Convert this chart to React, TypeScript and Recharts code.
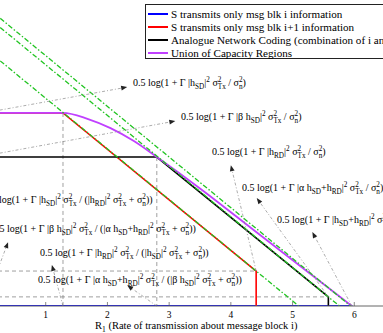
import React from "react";
import { LineChart, Line, XAxis, YAxis, ReferenceLine, ReferenceDot } from "recharts";

const FONT = '"Liberation Serif", "Times New Roman", serif';

// rate region boundaries (R1, R2)
const blueR1 = [0, 5.97];
const blueR2 = [0, 0];
const redR1 = [0, 1.28, 4.41, 4.41];
const redR2 = [3.81, 3.81, 0.69, 0];
const ancR1 = [0, 2.8, 5.58, 5.58];
const ancR2 = [2.94, 2.94, 0.18, 0];
const unionR1 = [0, 1.28, 1.665, 2.05, 2.435, 2.8, 3.5, 4.39, 5.96];
const unionR2 = [3.81, 3.81, 3.7, 3.51, 3.25, 2.94, 2.32, 1.48, 0];
// sum-rate bounds R1 + R2 = c
const sumRates = [5.94, 5.76, 5.1];

const xTicks = [1, 2, 3, 4, 5, 6];

const legendNames = [
  "S transmits only msg blk i information",
  "S transmits only msg blk i+1 information",
  "Analogue Network Coding (combination of i and i+1)",
  "Union of Capacity Regions",
];
const legendColors = ["#0000ff", "#ff0000", "#000000", "#c040ff"];

const boundLabels = [
  "0.5 log(1 + Γ |h_{SD}|^{2} σ^{2}_{Tx} / σ^{2}_{n})",
  "0.5 log(1 + Γ |β h_{SD}|^{2} σ^{2}_{Tx} / σ^{2}_{n})",
  "0.5 log(1 + Γ |h_{RD}|^{2} σ^{2}_{Tx} / σ^{2}_{n})",
  "0.5 log(1 + Γ |α h_{SD}+h_{RD}|^{2} σ^{2}_{Tx} / σ^{2}_{n})",
  "0.5 log(1 + Γ |h_{SD}+h_{RD}|^{2} σ^{2}_{Tx} / σ^{2}_{n})",
  "0.5 log(1 + Γ |h_{SD}|^{2} σ^{2}_{Tx} / (|h_{RD}|^{2} σ^{2}_{Tx} + σ^{2}_{n}))",
  "0.5 log(1 + Γ |β h_{SD}|^{2} σ^{2}_{Tx} / (|α h_{SD}+h_{RD}|^{2} σ^{2}_{Tx} + σ^{2}_{n}))",
  "0.5 log(1 + Γ |h_{RD}|^{2} σ^{2}_{Tx} / (|h_{SD}|^{2} σ^{2}_{Tx} + σ^{2}_{n}))",
  "0.5 log(1 + Γ |α h_{SD}+h_{RD}|^{2} σ^{2}_{Tx} / (|β h_{SD}|^{2} σ^{2}_{Tx} + σ^{2}_{n}))",
];
const labelR1 = [2.415, 3.193, 3.695, 4.181, 4.749, 0.0, 0.13, 0.908, 0.875];
const labelR2 = [4.342, 3.671, 2.98, 2.27, 1.638, 2.033, 1.46, 0.987, 0.454];

// annotation arrows: from (R1, R2) to (R1, R2)
const arrowFrom = [[0, 3.81], [0, 2.96], [4.41, 0.69], [5.58, 0.18], [5.96, 0], [0, 0], [1.28, 0], [2.8, 0]];
const arrowTo = [[2.32, 4.32], [3.1, 3.65], [4.0, 2.78], [4.42, 2.13], [5.32, 1.46], [0.39, 1.26], [1.1, 0.81], [2.32, 0.41]];

const toPoints = (xs: number[], ys: number[]) => xs.map((x, i) => ({ x, y: ys[i] }));

let ctx: CanvasRenderingContext2D | null = null;
function measure(t: string, size: number) {
  if (!ctx) ctx = document.createElement("canvas").getContext("2d");
  if (!ctx) return t.length * size * 0.5;
  ctx.font = `${size}px "Liberation Serif"`;
  return ctx.measureText(t).width;
}

type Seg = { t: string; k: "n" | "sub" | "sup" };
function parseTex(s: string): Seg[] {
  const out: Seg[] = [];
  let i = 0;
  let buf = "";
  while (i < s.length) {
    const c = s[i];
    if ((c === "_" || c === "^") && s[i + 1] === "{") {
      if (buf) { out.push({ t: buf, k: "n" }); buf = ""; }
      const end = s.indexOf("}", i);
      out.push({ t: s.slice(i + 2, end), k: c === "_" ? "sub" : "sup" });
      i = end + 1;
    } else {
      buf += c;
      i++;
    }
  }
  if (buf) out.push({ t: buf, k: "n" });
  return out;
}

function Tex({ x, y, s, size }: { x: number; y: number; s: string; size: number }) {
  const segs = parseTex(s);
  const small = size * 0.72;
  let cur = 0;
  const spans = segs.map((seg, i) => {
    const target = seg.k === "sup" ? -0.42 * size : seg.k === "sub" ? 0.33 * size : 0;
    const prev = segs[i - 1];
    const dx = seg.k === "sub" && prev && prev.k === "sup" ? -measure(prev.t, small) : 0;
    const dy = target - cur;
    cur = target;
    return (
      <tspan key={i} dx={dx || undefined} dy={dy || undefined} fontSize={seg.k === "n" ? size : small}>
        {seg.t}
      </tspan>
    );
  });
  return (
    <text x={x} y={y} fontFamily={FONT} fontSize={size} fill="#000" style={{ whiteSpace: "pre" }}>
      {spans}
    </text>
  );
}

function BottomTick({ x, y, payload }: any) {
  return (
    <g>
      <line x1={x} y1={y} x2={x} y2={y - 4} stroke="#555" strokeWidth={0.7} />
      <text x={x} y={y + 12} textAnchor="middle" fontSize={9.5} fontFamily={FONT} fill="#000">
        {payload.value}
      </text>
    </g>
  );
}

function TopTick({ x, y }: any) {
  return <line x1={x} y1={y} x2={x} y2={y + 4} stroke="#555" strokeWidth={0.7} />;
}

function Arrow(props: any) {
  const { x1, y1, x2, y2 } = props;
  const a = Math.atan2(y2 - y1, x2 - x1);
  const L = 6;
  const W = 2.4;
  const bx = x2 - L * Math.cos(a);
  const by = y2 - L * Math.sin(a);
  const px = -Math.sin(a) * W;
  const py = Math.cos(a) * W;
  return (
    <g>
      <line x1={x1} y1={y1} x2={bx} y2={by} stroke="#888" strokeWidth={0.7} strokeDasharray="3 2 1 2" />
      <polygon points={`${x2},${y2} ${bx + px},${by + py} ${bx - px},${by - py}`} fill="#222" />
    </g>
  );
}

function AxisTitle({ viewBox }: any) {
  return <Tex x={viewBox.x + 111} y={viewBox.y + 23} s="R_{1} (Rate of transmission about message block i)" size={10.5} />;
}

function LegendBox() {
  return (
    <div
      style={{
        position: "absolute", left: 145, top: 4, width: 270, height: 53,
        border: "1px solid #222", background: "#fff", fontFamily: FONT, fontSize: 11.1,
      }}
    >
      {legendNames.map((name, i) => (
        <div key={name} style={{ position: "absolute", left: 2, top: 2 + i * 13, height: 13, display: "flex", alignItems: "center", whiteSpace: "nowrap" }}>
          <span style={{ display: "inline-block", width: 20, height: 2, background: legendColors[i], marginRight: 3 }} />
          {name}
        </div>
      ))}
    </div>
  );
}

export default function App() {
  const guides = [
    [[redR1[1], redR2[1]], [redR1[1], 0]],
    [[ancR1[1], ancR2[1]], [ancR1[1], 0]],
    [[0, redR2[2]], [redR1[2], redR2[2]]],
    [[0, ancR2[2]], [ancR1[2], ancR2[2]]],
  ];
  return (
    <div style={{ position: "fixed", left: 0, top: 0, width: 383, height: 333, overflow: "hidden", background: "#fff" }}>
      <div style={{ position: "absolute", left: -16, top: 0 }}>
        <LineChart width={432} height={333} margin={{ top: 2, right: 0, bottom: 0, left: 0 }}>
          <XAxis
            dataKey="x" type="number" domain={[0, 7]} ticks={xTicks} allowDataOverflow interval={0}
            height={27} tickSize={0} tickMargin={0} tickLine={false} tick={<BottomTick />}
            axisLine={{ stroke: "#666" }} label={{ content: AxisTitle }}
          />
          <XAxis
            xAxisId="top" orientation="top" type="number" domain={[0, 7]} ticks={xTicks} allowDataOverflow
            interval={0} height={0} tickSize={0} tickMargin={0} tickLine={false} tick={<TopTick />}
            axisLine={{ stroke: "#666" }}
          />
          <YAxis type="number" domain={[0, 6]} hide allowDataOverflow />
          {guides.map((g, i) => (
            <ReferenceLine
              key={`g${i}`} segment={[{ x: g[0][0], y: g[0][1] }, { x: g[1][0], y: g[1][1] }]}
              ifOverflow="visible" stroke="#777" strokeWidth={0.7} strokeDasharray="4 3"
            />
          ))}
          <Line data={toPoints(blueR1, blueR2)} dataKey="y" stroke="#0000ff" strokeWidth={2} dot={false} isAnimationActive={false} />
          <Line data={toPoints(redR1, redR2)} dataKey="y" stroke="#ff0000" strokeWidth={1.6} dot={false} isAnimationActive={false} />
          <Line data={toPoints(ancR1, ancR2)} dataKey="y" stroke="#000000" strokeWidth={1.6} dot={false} isAnimationActive={false} />
          <Line data={toPoints(unionR1, unionR2)} dataKey="y" type="monotone" stroke="#c040ff" strokeWidth={1.8} dot={false} isAnimationActive={false} />
          {sumRates.map((c) => (
            <Line
              key={`s${c}`} data={[{ x: 0, y: c }, { x: c, y: 0 }]} dataKey="y" stroke="#22c422"
              strokeWidth={1.3} strokeDasharray="5 2 1.5 2" dot={false} isAnimationActive={false}
            />
          ))}
          {arrowFrom.map((f, i) => (
            <ReferenceLine
              key={`a${i}`} segment={[{ x: f[0], y: f[1] }, { x: arrowTo[i][0], y: arrowTo[i][1] }]}
              ifOverflow="visible" shape={Arrow}
            />
          ))}
          {boundLabels.map((s, i) => (
            <ReferenceDot
              key={`l${i}`} x={labelR1[i]} y={labelR2[i]} r={0} ifOverflow="visible"
              shape={(p: any) => <Tex x={p.cx} y={p.cy} s={s} size={10} />}
            />
          ))}
        </LineChart>
      </div>
      <LegendBox />
    </div>
  );
}
